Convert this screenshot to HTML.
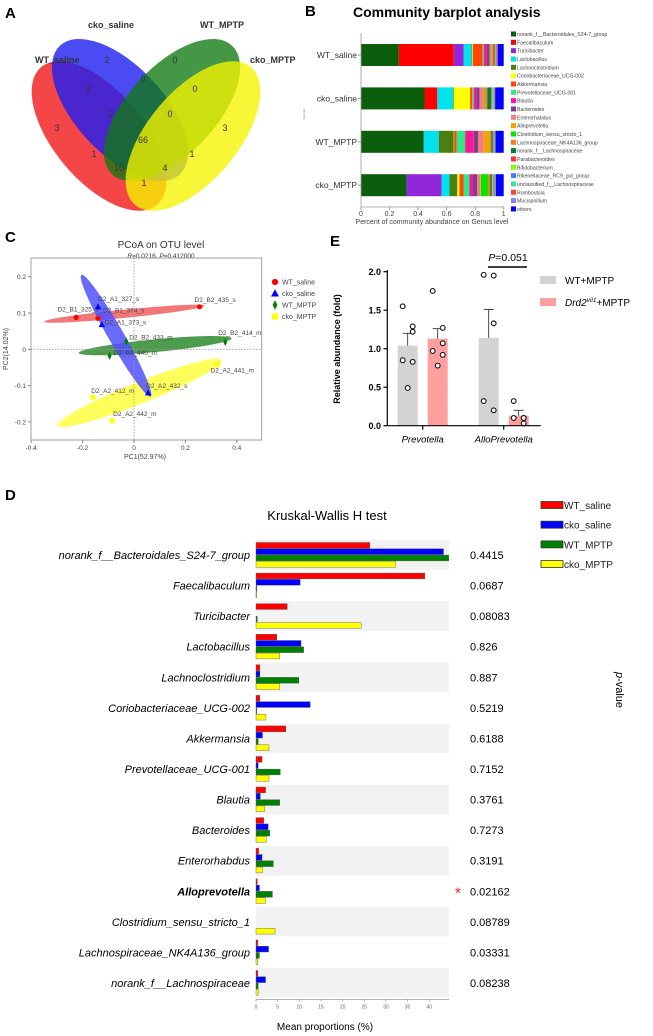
<!DOCTYPE html>
<html><head><meta charset="utf-8">
<style>
html,body{margin:0;padding:0;background:#fff;}
svg{display:block;font-family:"Liberation Sans",Arial,sans-serif;}
</style></head>
<body>
<svg id="fig" width="653" height="1036" viewBox="0 0 653 1036" xmlns="http://www.w3.org/2000/svg">
<!-- Panel A: Venn -->
<g id="panelA">
<text x="5" y="18" font-size="15" font-weight="bold">A</text>
<ellipse cx="99" cy="136" rx="90" ry="45" transform="rotate(50 99 136)" fill="#f21d1d" fill-opacity="0.82"/>
<ellipse cx="120" cy="110" rx="88" ry="44" transform="rotate(47 120 110)" fill="#1e1ef0" fill-opacity="0.8"/>
<ellipse cx="172" cy="110" rx="88" ry="44" transform="rotate(-47 172 110)" fill="#0f7a0f" fill-opacity="0.78"/>
<ellipse cx="193" cy="136" rx="90" ry="45" transform="rotate(-50 193 136)" fill="#f5f500" fill-opacity="0.78"/>
<g font-size="9" font-weight="bold" fill="#333">
<text x="35" y="63">WT_saline</text>
<text x="88" y="28">cko_saline</text>
<text x="200" y="28">WT_MPTP</text>
<text x="250" y="63">cko_MPTP</text>
</g>
<g font-size="9" fill="#333" text-anchor="middle">
<text x="107" y="63">2</text><text x="175" y="63">0</text><text x="88" y="92">2</text><text x="143" y="82">0</text>
<text x="195" y="92">0</text><text x="57" y="131">3</text><text x="111" y="117">2</text><text x="170" y="117">0</text>
<text x="225" y="131">3</text><text x="143" y="143">66</text><text x="94" y="157">1</text><text x="192" y="157">1</text>
<text x="119" y="171">10</text><text x="165" y="171">4</text><text x="144" y="186">1</text>
</g>
</g>

<!-- Panel B -->
<g id="panelB">
<text x="305" y="16" font-size="15" font-weight="bold">B</text>
<text x="353" y="17" font-size="14" font-weight="bold">Community barplot analysis</text>
<g id="bBars"></g>
<g id="bAxis"></g>
<g id="bLegend"></g>
<text x="432" y="224" font-size="7" fill="#444" text-anchor="middle">Percent of community abundance on Genus level</text>
<text x="305" y="120" font-size="3" fill="#888" transform="rotate(-90 305 120)">Samples</text>
</g>

<!-- Panel C -->
<g id="panelC">
<text x="5" y="242" font-size="15" font-weight="bold">C</text>
<text x="161" y="248" font-size="10" fill="#333" text-anchor="middle">PCoA on OTU level</text>
<text x="161" y="258" font-size="6.5" fill="#333" text-anchor="middle"><tspan font-style="italic">R</tspan>=0.0216, <tspan font-style="italic">P</tspan>=0.412000</text>
<g id="cPlot"></g>
<text x="145" y="459" font-size="7" fill="#444" text-anchor="middle">PC1(52.97%)</text>
<text x="8" y="349" font-size="7" fill="#444" text-anchor="middle" transform="rotate(-90 8 349)">PC2(14.02%)</text>
<g id="cLegend"></g>
</g>

<!-- Panel E -->
<g id="panelE">
<text x="330" y="246" font-size="15" font-weight="bold">E</text>
<g id="ePlot"></g>
<text x="340" y="349" font-size="9" font-weight="bold" text-anchor="middle" transform="rotate(-90 340 349)">Relative abundance (fold)</text>
<text x="508" y="261" font-size="10.5" text-anchor="middle"><tspan font-style="italic">P</tspan>=0.051</text>
<line x1="488" y1="267" x2="527" y2="267" stroke="#000" stroke-width="1.5"/>
<rect x="540" y="276" width="16" height="8" fill="#d3d3d3"/>
<text x="565" y="284" font-size="10">WT+MPTP</text>
<rect x="540" y="298" width="16" height="8" fill="#ff9f9f"/>
<text x="565" y="306" font-size="10"><tspan font-style="italic">Drd2</tspan><tspan font-style="italic" font-size="6.5" dy="-4">vil1</tspan><tspan dy="4">+MPTP</tspan></text>
</g>

<!-- Panel D -->
<g id="panelD">
<text x="5" y="500" font-size="15" font-weight="bold">D</text>
<text x="327" y="520" font-size="13" text-anchor="middle">Kruskal-Wallis H test</text>
<g id="dPlot"></g>
<g id="dLegend"></g>
<text x="325" y="1030" font-size="10" text-anchor="middle">Mean proportions (%)</text>
<text x="616" y="690" font-size="11" text-anchor="middle" transform="rotate(90 616 690)"><tspan font-style="italic">p</tspan>-value</text>
</g>
</svg>

<script>
// ---------- Panel B data ----------
const bSamples = ["WT_saline","cko_saline","WT_MPTP","cko_MPTP"];
const bGenera = ["norank_f__Bacteroidales_S24-7_group","Faecalibaculum","Turicibacter","Lactobacillus","Lachnoclostridium","Coriobacteriaceae_UCG-002","Akkermansia","Prevotellaceae_UCG-001","Blautia","Bacteroides","Enterorhabdus","Alloprevotella","Clostridium_sensu_stricto_1","Lachnospiraceae_NK4A136_group","norank_f__Lachnospiraceae","Parabacteroides","Bifidobacterium","Rikenellaceae_RC9_gut_group","unclassified_f__Lachnospiraceae","Romboutsia","Mucispirillum","others"];
const bColors = ["#0b5e0b","#ff0000","#9127d8","#00e3ee","#4c7f10","#ffff00","#ff4500","#2ee88a","#ff1493","#7b3f8f","#f47c7c","#f5a300","#00e600","#f48020","#0a7a3a","#ff3030","#7fff00","#4682f4","#40e0a0","#ff4040","#8080ff","#0000ff"];
const bWTsaline = [0.265,0.385,0.07,0.055,0.003,0.005,0.07,0.008,0.02,0.02,0.01,0.005,0.003,0.01,0.005,0.005,0.003,0.003,0.003,0.005,0.005,0.042];
const bCKOsaline = [0.445,0.09,0,0.11,0.005,0.115,0.015,0.01,0.02,0.02,0.03,0.005,0.005,0.015,0.027,0.005,0.003,0.003,0.01,0.005,0.002,0.06];
const bWTmptp = [0.44,0,0,0.105,0.105,0.003,0.017,0.06,0.06,0.03,0.04,0.04,0.003,0.01,0.01,0.005,0.003,0.005,0.003,0.002,0.002,0.057];
const bCKOmptp = [0.32,0,0.245,0.055,0.055,0.015,0.03,0.04,0.025,0.03,0.02,0.005,0.05,0.015,0.01,0.005,0.005,0.005,0.005,0.005,0.005,0.055];
const bTicks = [0,0.2,0.4,0.6,0.8,1];

// ---------- Panel C data ----------
const cGroups = ["WT_saline","cko_saline","WT_MPTP","cko_MPTP"];
const cPC1 = [[-0.225,-0.14,0.255],[-0.14,-0.125,0.055],[-0.03,0.355,-0.095],[0.325,-0.16,-0.085]];
const cPC2 = [[0.088,0.085,0.117],[0.117,0.068,-0.12],[0.022,0.02,-0.018],[-0.042,-0.132,-0.197]];
const cNames = [["D2_B1_325_s","D2_B1_374_s","D2_B2_435_s"],["D2_A1_327_s","D2_A1_373_s","D2_A2_432_s"],["D2_B2_433_m","D2_B2_414_m","D2_B2_440_m"],["D2_A2_441_m","D2_A2_412_m","D2_A2_442_m"]];
const cXTicks = [-0.4,-0.2,0,0.2,0.4];
const cYTicks = [0.2,0.1,0,-0.1,-0.2];

// ---------- Panel E data ----------
const eCategories = ["Prevotella","AlloPrevotella"];
const eWTmean = [1.04,1.14];
const eWTsem = [0.16,0.37];
const eDrdMean = [1.13,0.13];
const eDrdSem = [0.13,0.07];
const eWTpoints = [[1.55,1.29,1.22,0.85,0.83,0.49],[1.96,1.95,1.33,0.32,0.2]];
const eDrdPoints = [[1.75,1.27,1.07,0.97,0.92,0.78],[0.32,0.1,0.1,0.1,0.03]];
const eYTicks = [0,0.5,1.0,1.5,2.0];

// ---------- Panel D data ----------
const dTaxa = ["norank_f__Bacteroidales_S24-7_group","Faecalibaculum","Turicibacter","Lactobacillus","Lachnoclostridium","Coriobacteriaceae_UCG-002","Akkermansia","Prevotellaceae_UCG-001","Blautia","Bacteroides","Enterorhabdus","Alloprevotella","Clostridium_sensu_stricto_1","Lachnospiraceae_NK4A136_group","norank_f__Lachnospiraceae"];
const dWTsaline = [26.3,39.0,7.2,4.8,0.9,0.9,6.9,1.4,2.2,1.8,0.6,0.3,0,0.4,0.4];
const dCKOsaline = [43.3,10.2,0,10.4,0.9,12.5,1.5,0.5,1.0,2.8,1.4,0.8,0,2.9,2.2];
const dWTmptp = [44.5,0.2,0.3,11.0,9.9,0.2,0.5,5.6,5.5,3.2,4.0,3.8,0,0.8,0.5];
const dCKOmptp = [32.3,0.1,24.3,5.5,5.5,2.3,3.0,3.0,2.0,2.4,1.5,2.2,4.4,0.4,0.5];
const dPvalues = ["0.4415","0.0687","0.08083","0.826","0.887","0.5219","0.6188","0.7152","0.3761","0.7273","0.3191","0.02162","0.08789","0.03331","0.08238"];
const dTicks = [0,5,10,15,20,25,30,35,40];
const dSeriesNames = ["WT_saline","cko_saline","WT_MPTP","cko_MPTP"];
const dColors = ["#ff0000","#0000ff","#008000","#ffff00"];

const NS = "http://www.w3.org/2000/svg";
function mk(tag, attrs, parent, txt){
  const e = document.createElementNS(NS, tag);
  for (const k in attrs) e.setAttribute(k, attrs[k]);
  if (txt !== undefined) e.textContent = txt;
  parent.appendChild(e);
  return e;
}

// ===== Panel B =====
(function(){
  const g = document.getElementById("bBars"), ax = document.getElementById("bAxis"), lg = document.getElementById("bLegend");
  const x0 = 361, x1 = 503.7;
  const bx = v => x0 + v*(x1-x0);
  const rows = [bWTsaline,bCKOsaline,bWTmptp,bCKOmptp];
  const rowY = i => 44 + i*43.4;
  rows.forEach((vals, i) => {
    let acc = 0;
    vals.forEach((v, j) => {
      if (v <= 0) { return; }
      const r = mk("rect", {x: bx(acc), y: rowY(i), width: bx(acc+v)-bx(acc), height: 22, fill: bColors[j]}, g);
      
      
      acc += v;
    });
    const t = mk("text", {x: 357, y: rowY(i)+14, "font-size": 8.5, fill: "#333", "text-anchor": "end"}, ax, bSamples[i]);
    
    
    mk("line", {x1: 358, x2: 361, y1: rowY(i)+11, y2: rowY(i)+11, stroke: "#999"}, ax);
  });
  const yl = mk("line", {x1: x0, x2: x0, y1: 33, y2: 207, stroke: "#999", "stroke-width": 0.8}, ax);
  
  
  const xl = mk("line", {x1: x0, x2: x1, y1: 207, y2: 207, stroke: "#999", "stroke-width": 0.8}, ax);
  
  
  bTicks.forEach(t => {
    mk("line", {x1: bx(t), x2: bx(t), y1: 207, y2: 210, stroke: "#999"}, ax);
    const tt = mk("text", {x: bx(t), y: 216, "font-size": 7, fill: "#444", "text-anchor": "middle"}, ax, String(t));
    
    
  });
  bGenera.forEach((n, j) => {
    const y = 34 + j*8.33;
    mk("rect", {x: 511, y: y-2.5, width: 5, height: 5, fill: bColors[j]}, lg);
    const t = mk("text", {x: 517, y: y+2, "font-size": 5.2, fill: "#444"}, lg, n);
    
    
  });
})();

// ===== Panel C =====
(function(){
  const g = document.getElementById("cPlot"), lg = document.getElementById("cLegend");
  const px = v => 134 + v*257;
  const py = v => 349.3 - v*363;
  const ell = [
    {a:[-0.35,0.076], b:[0.275,0.12], w:0.012, c:"#f06060"},
    {a:[-0.205,0.205], b:[0.065,-0.13], w:0.032, c:"#5050ff"},
    {a:[-0.215,-0.01], b:[0.38,0.03], w:0.024, c:"#2e8b2e"},
    {a:[-0.295,-0.21], b:[0.34,-0.03], w:0.048, c:"#ffff40"}
  ];
  const order = [3,2,0,1];
  order.forEach(k => {
    const e = ell[k];
    const ax1 = px(e.a[0]), ay1 = py(e.a[1]), bx1 = px(e.b[0]), by1 = py(e.b[1]);
    const cx = (ax1+bx1)/2, cy = (ay1+by1)/2;
    const len = Math.hypot(bx1-ax1, by1-ay1)/2;
    const ang = Math.atan2(by1-ay1, bx1-ax1)*180/Math.PI;
    const el = mk("ellipse", {cx, cy, rx: len, ry: e.w*363*0.5+2, fill: e.c, "fill-opacity": 0.85, transform: `rotate(${ang} ${cx} ${cy})`}, g);
    
    
  });
  mk("line", {x1: px(0), x2: px(0), y1: 258, y2: 440, stroke: "#999", "stroke-dasharray": "1.5,1.5", "stroke-width": 0.8}, g);
  mk("line", {x1: 31, x2: 261.7, y1: py(0), y2: py(0), stroke: "#999", "stroke-dasharray": "1.5,1.5", "stroke-width": 0.8}, g);
  const box = mk("rect", {x: 31, y: 258, width: 230.7, height: 182, fill: "none", stroke: "#888", "stroke-width": 0.8}, g);
  
  
  cXTicks.forEach(t => {
    mk("line", {x1: px(t), x2: px(t), y1: 440, y2: 443, stroke: "#888"}, g);
    const tt = mk("text", {x: px(t), y: 450, "font-size": 6.5, fill: "#444", "text-anchor": "middle"}, g, String(t));
    
    
  });
  cYTicks.forEach(t => {
    mk("line", {x1: 28, x2: 31, y1: py(t), y2: py(t), stroke: "#888"}, g);
    const tt = mk("text", {x: 26, y: py(t)+2.5, "font-size": 6.5, fill: "#444", "text-anchor": "end"}, g, String(t));
    
    
  });
  const colors = ["#ff0000","#0000ff","#008000","#ffff00"];
  function marker(k, x, y, parent, s){
    s = s || 1;
    let m;
    if (k===0) m = mk("circle", {cx:x, cy:y, r:2.6*s, fill:colors[0]}, parent);
    else if (k===1) m = mk("polygon", {points:`${x},${y-3.5*s} ${x-3.3*s},${y+2.5*s} ${x+3.3*s},${y+2.5*s}`, fill:colors[1]}, parent);
    else if (k===2) m = mk("polygon", {points:`${x},${y-4*s} ${x-2*s},${y} ${x},${y+4*s} ${x+2*s},${y}`, fill:colors[2]}, parent);
    else m = mk("rect", {x:x-2.5*s, y:y-2.5*s, width:5*s, height:5*s, fill:colors[3]}, parent);
    return m;
  }
  const lblOff = [[[-1,0],[5,-6],[-5,-5]],[[0,-6],[3,0],[-2,-5]],[[3,-2],[-7,-7],[4,-1]],[[-7,8],[-2,-4],[1,-5]]];
  cGroups.forEach((gname, k) => {
    cPC1[k].forEach((v, i) => {
      const x = px(v), y = py(cPC2[k][i]);
      const m = marker(k, x, y, g);
      
      
      const off = lblOff[k][i];
      const t = mk("text", {x: x+off[0], y: y+off[1], "font-size": 6.5, fill: "#444", "text-anchor": (k===0&&i===0)||(k===3&&i===1)?"middle":"start"}, g, cNames[k][i]);
      if ((k===0&&i===0)) { t.setAttribute("x", x+2); t.setAttribute("y", y-6); }
      if ((k===3&&i===1)) { t.setAttribute("x", x+20); t.setAttribute("y", y-4); }
      
      
    });
    const ly = 282 + k*11.5;
    const m = marker(k, 275, ly, lg, 1.2);
    
    
    const t = mk("text", {x: 282, y: ly+2.5, "font-size": 7, fill: "#444"}, lg, gname);
    
    
  });
})();

// ===== Panel E =====
(function(){
  const g = document.getElementById("ePlot");
  const y0 = 425.7, per = 77;
  const ey = v => y0 - v*per;
  const groupX = [397.7, 478.7];
  const barW = 20, gap = 10;
  eCategories.forEach((c, i) => {
    const specs = [[eWTmean[i], eWTsem[i], eWTpoints[i], "#d3d3d3", groupX[i]],[eDrdMean[i], eDrdSem[i], eDrdPoints[i], "#ff9f9f", groupX[i]+barW+gap]];
    specs.forEach(([m, s, pts, col, x], si) => {
      const r = mk("rect", {x, y: ey(m), width: barW, height: y0-ey(m), fill: col}, g);
      
      
      const cx = x + barW/2;
      mk("line", {x1: cx, x2: cx, y1: ey(m), y2: ey(m+s), stroke: "#222", "stroke-width": 0.8}, g);
      mk("line", {x1: cx-5, x2: cx+5, y1: ey(m+s), y2: ey(m+s), stroke: "#222", "stroke-width": 0.8}, g);
      const offs = [-5, 5, 5, -5, 5, 0];
      pts.forEach((v, j) => {
        const c2 = mk("circle", {cx: cx + offs[j % offs.length], cy: ey(v), r: 2.4, fill: "#fff", stroke: "#111", "stroke-width": 1.1}, g);
        
        
      });
    });
    mk("line", {x1: groupX[i]+25, x2: groupX[i]+25, y1: y0, y2: y0+4, stroke: "#000", "stroke-width": 1.2}, g);
    const t = mk("text", {x: groupX[i]+25, y: y0+17, "font-size": 9.5, "font-style": "italic", "text-anchor": "middle"}, g, c);
    
    
  });
  const yax = mk("line", {x1: 387.3, x2: 387.3, y1: ey(2.02), y2: y0, stroke: "#000", "stroke-width": 1.2}, g);
  
  
  const xax = mk("line", {x1: 387.3, x2: 540.7, y1: y0, y2: y0, stroke: "#000", "stroke-width": 1.2}, g);
  
  
  eYTicks.forEach(t => {
    mk("line", {x1: 383.5, x2: 387.3, y1: ey(t), y2: ey(t), stroke: "#000", "stroke-width": 1.2}, g);
    const tt = mk("text", {x: 381, y: ey(t)+3.3, "font-size": 9, "font-weight": "bold", "text-anchor": "end"}, g, t.toFixed(1));
    
    
  });
})();

// ===== Panel D =====
(function(){
  const g = document.getElementById("dPlot"), lg = document.getElementById("dLegend");
  const x0 = 256, perUnit = 4.33;
  const dx = v => x0 + v*perUnit;
  const rowH = 30.57, first = 555;
  const series = [dWTsaline, dCKOsaline, dWTmptp, dCKOmptp];
  dTaxa.forEach((name, i) => {
    const cy = first + i*rowH;
    if (i % 2 === 0) {
      const bg = mk("rect", {x: x0, y: cy-rowH/2+0.5, width: 193, height: rowH-1, fill: "#f2f2f2"}, g);
      
      
    }
    series.forEach((s, k) => {
      const v = s[i];
      if (v <= 0) return;
      const r = mk("rect", {x: x0, y: cy-12.5+k*6.3, width: Math.max(0.8, v*perUnit), height: 5.8, fill: dColors[k], stroke: "#555", "stroke-width": 0.4}, g);
      
      
    });
    const t = mk("text", {x: 250, y: cy+4, "font-size": 11, "font-style": "italic", "text-anchor": "end", "font-weight": name==="Alloprevotella" ? "bold" : "normal"}, g, name);
    
    
    const p = mk("text", {x: 470, y: cy+4, "font-size": 11}, g, dPvalues[i]);
    
    
  });
  const star = mk("text", {x: 458, y: first + 11*rowH + 7, "font-size": 16, fill: "#ff2020", "text-anchor": "middle"}, g, "*");
  
  
  const yb = first + 14*rowH + rowH/2 + 1;
  const ax = mk("line", {x1: x0, x2: 449, y1: yb, y2: yb, stroke: "#888", "stroke-width": 0.6}, g);
  
  
  dTicks.forEach(t => {
    mk("line", {x1: dx(t), x2: dx(t), y1: yb, y2: yb+2.5, stroke: "#888", "stroke-width": 0.6}, g);
    const tt = mk("text", {x: dx(t), y: yb+9, "font-size": 5, fill: "#666", "text-anchor": "middle"}, g, String(t));
    
    
  });
  dSeriesNames.forEach((n, k) => {
    const y = 505 + k*19.7;
    const r = mk("rect", {x: 541, y: y-3.5, width: 22, height: 7, fill: dColors[k], stroke: "#333", "stroke-width": 0.8}, lg);
    
    
    const t = mk("text", {x: 564, y: y+4, "font-size": 10, fill: "#222"}, lg, n);
    
    
  });
})();
</script>
</body></html>
